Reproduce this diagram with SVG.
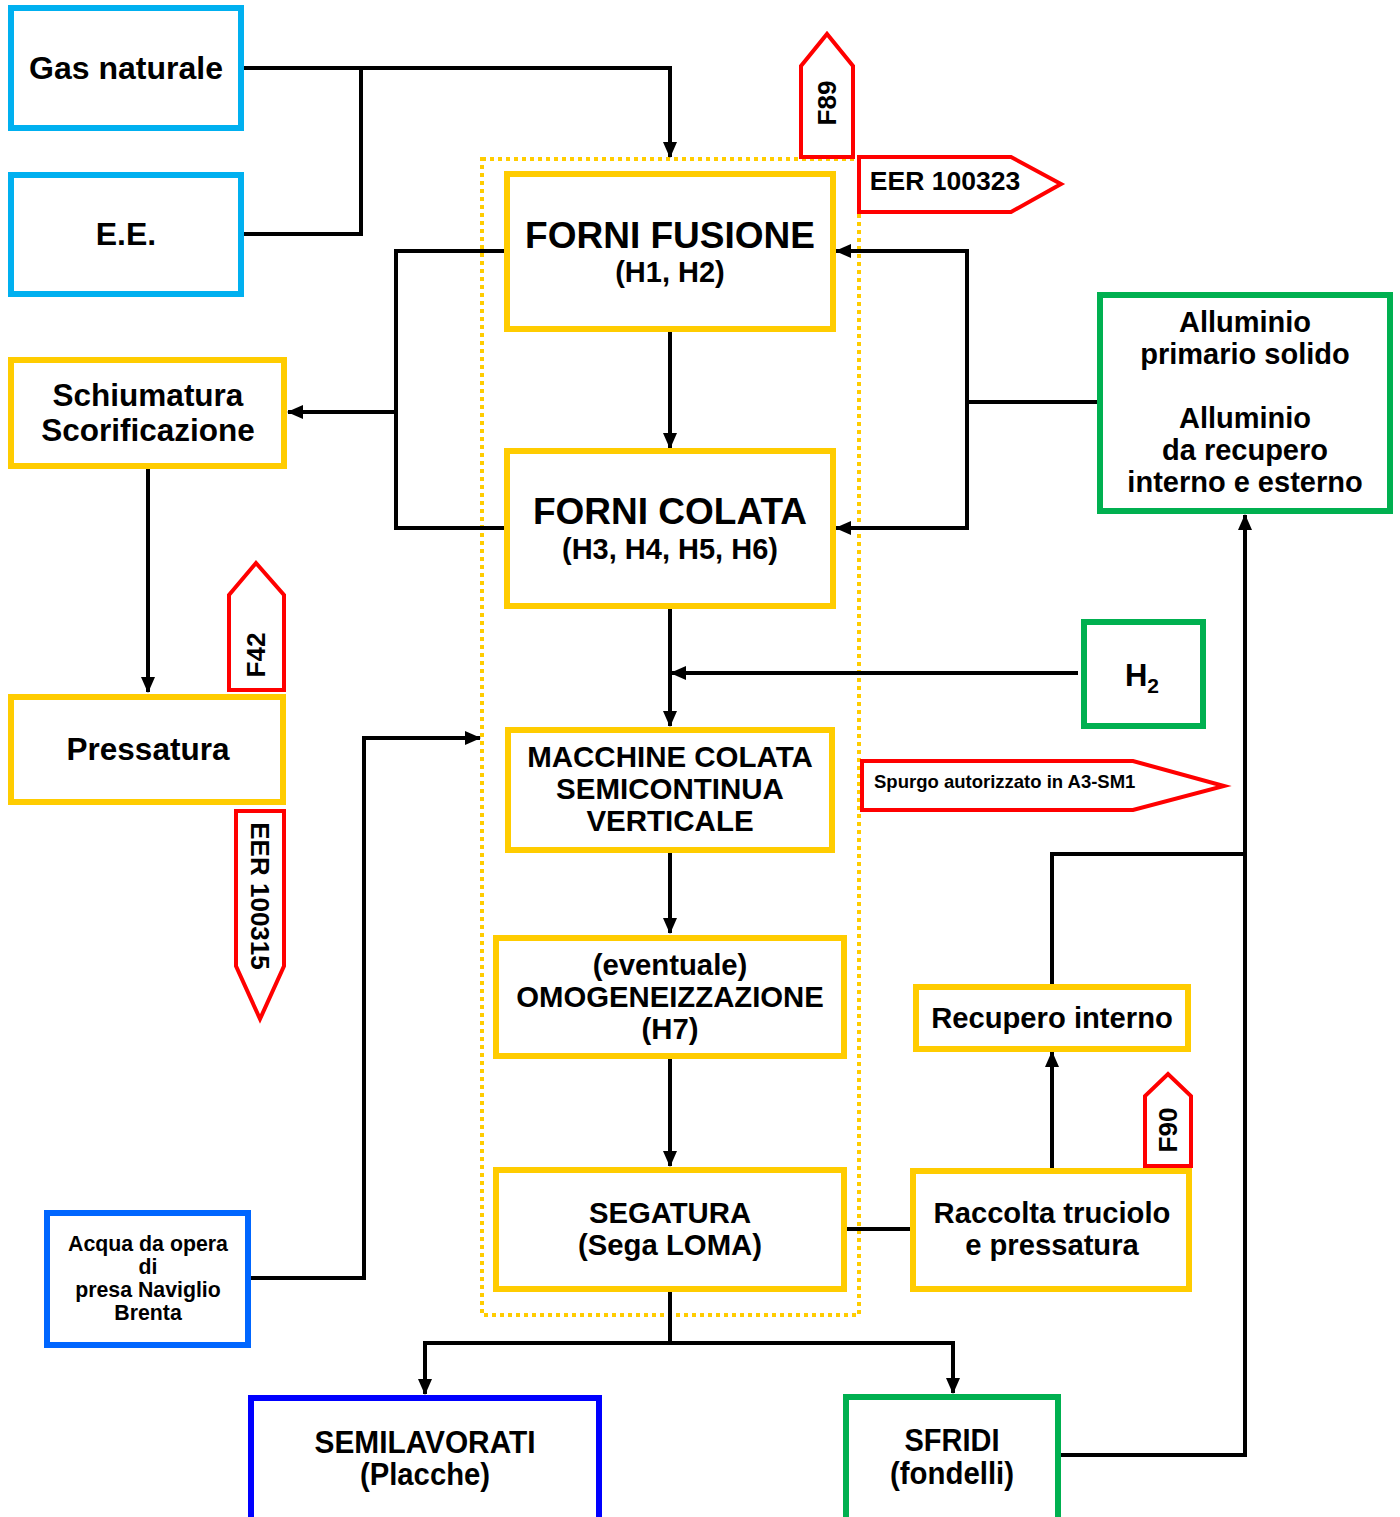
<svg xmlns="http://www.w3.org/2000/svg" width="1400" height="1517" viewBox="0 0 1400 1517">
<style>
text{font-family:"Liberation Sans",Arial,sans-serif;font-weight:bold;fill:#000;text-anchor:middle}
.box{fill:#fff;stroke-width:6}
.cy{stroke:#00B0F0}
.yl{stroke:#FFCC00}
.gr{stroke:#00B050}
.bl{stroke:#0066FF}
.db{stroke:#0000FF}
.tag{fill:#fff;stroke:#FF0000;stroke-width:4}
.c{fill:none;stroke:#000;stroke-width:4}
.a{marker-end:url(#ah)}
</style>
<defs>
<marker id="ah" markerUnits="userSpaceOnUse" markerWidth="16" markerHeight="14" refX="15" refY="7" orient="auto">
<path d="M0,0 L16,7 L0,14 z" fill="#000"/>
</marker>
</defs>
<rect width="1400" height="1517" fill="#fff"/>
<rect x="482" y="159" width="377" height="1156" fill="none" stroke="#FFCC00" stroke-width="4" stroke-dasharray="4 4"/>
<g id="connectors">
<polyline class="c a" points="243,68 670,68 670,157"/>
<polyline class="c" points="361,68 361,234 243,234"/>
<polyline class="c" points="505,251 396,251 396,528 505,528"/>
<line class="c a" x1="396" y1="412" x2="288" y2="412"/>
<line class="c a" x1="670" y1="330" x2="670" y2="448"/>
<line class="c a" x1="148" y1="467" x2="148" y2="692"/>
<polyline class="c a" points="1098,402 967,402 967,251 836,251"/>
<polyline class="c a" points="967,402 967,528 836,528"/>
<line class="c a" x1="670" y1="607" x2="670" y2="726"/>
<line class="c a" x1="1078" y1="673" x2="671" y2="673"/>
<polyline class="c a" points="249,1278 364,1278 364,738 480,738"/>
<line class="c a" x1="670" y1="851" x2="670" y2="933"/>
<line class="c a" x1="670" y1="1057" x2="670" y2="1166"/>
<line class="c" x1="846" y1="1229" x2="912" y2="1229"/>
<line class="c a" x1="1052" y1="1168" x2="1052" y2="1052"/>
<polyline class="c" points="1052,986 1052,854 1245,854"/>
<polyline class="c a" points="1060,1455 1245,1455 1245,515"/>
<line class="c" x1="670" y1="1290" x2="670" y2="1343"/>
<polyline class="c a" points="670,1343 425,1343 425,1394"/>
<polyline class="c a" points="670,1343 953,1343 953,1393"/>
</g>
<g id="gas"><rect class="box cy" x="11" y="8" width="230" height="120"/><text x="126" y="79" font-size="32">Gas naturale</text></g>
<g id="ee"><rect class="box cy" x="11" y="175" width="230" height="119"/><text x="126" y="245" font-size="32">E.E.</text></g>
<g id="forni-fusione"><rect class="box yl" x="507" y="174" width="326" height="155"/><text x="670" y="248" font-size="37">FORNI FUSIONE</text><text x="670" y="282" font-size="29">(H1, H2)</text></g>
<g id="forni-colata"><rect class="box yl" x="507" y="451" width="326" height="155"/><text x="670" y="524" font-size="37">FORNI COLATA</text><text x="670" y="559" font-size="29">(H3, H4, H5, H6)</text></g>
<g id="schiumatura"><rect class="box yl" x="11" y="360" width="273" height="106"/><text x="148" y="406" font-size="31.5">Schiumatura</text><text x="148" y="441" font-size="31.5">Scorificazione</text></g>
<g id="pressatura"><rect class="box yl" x="11" y="697" width="272" height="105"/><text x="148" y="760" font-size="31.5">Pressatura</text></g>
<g id="alluminio"><rect class="box gr" x="1100" y="295" width="290" height="216"/>
<text x="1245" y="332" font-size="29">Alluminio</text><text x="1245" y="364" font-size="29">primario solido</text>
<text x="1245" y="428" font-size="29">Alluminio</text><text x="1245" y="460" font-size="29">da recupero</text><text x="1245" y="492" font-size="29">interno e esterno</text></g>
<g id="h2"><rect class="box gr" x="1084" y="622" width="119" height="104"/><text x="1142" y="686" font-size="31">H<tspan font-size="21" dy="7">2</tspan></text></g>
<g id="macchine"><rect class="box yl" x="508" y="730" width="324" height="120"/><text x="670" y="767" font-size="29.5">MACCHINE COLATA</text><text x="670" y="799" font-size="29.5">SEMICONTINUA</text><text x="670" y="831" font-size="29.5">VERTICALE</text></g>
<g id="omogeneizzazione"><rect class="box yl" x="496" y="938" width="348" height="118"/><text x="670" y="975" font-size="29.3">(eventuale)</text><text x="670" y="1007" font-size="29.3">OMOGENEIZZAZIONE</text><text x="670" y="1039" font-size="29.3">(H7)</text></g>
<g id="segatura"><rect class="box yl" x="496" y="1170" width="348" height="119"/><text x="670" y="1223" font-size="29.3">SEGATURA</text><text x="670" y="1255" font-size="29.3">(Sega LOMA)</text></g>
<g id="raccolta"><rect class="box yl" x="913" y="1171" width="276" height="118"/><text x="1052" y="1223" font-size="29.2">Raccolta truciolo</text><text x="1052" y="1255" font-size="29.2">e pressatura</text></g>
<g id="recupero"><rect class="box yl" x="916" y="987" width="272" height="62"/><text x="1052" y="1028" font-size="29.2">Recupero interno</text></g>
<g id="acqua"><rect class="box bl" x="47" y="1213" width="201" height="132"/><text x="148" y="1251" font-size="21.3">Acqua da opera</text><text x="148" y="1274" font-size="21.3">di</text><text x="148" y="1297" font-size="21.3">presa Naviglio</text><text x="148" y="1320" font-size="21.3">Brenta</text></g>
<g id="semilavorati"><rect class="box db" x="251" y="1398" width="348" height="125"/><text x="425" y="1453" font-size="31" textLength="221" lengthAdjust="spacingAndGlyphs">SEMILAVORATI</text><text x="425" y="1485" font-size="31" textLength="130" lengthAdjust="spacingAndGlyphs">(Placche)</text></g>
<g id="sfridi"><rect class="box gr" x="846" y="1397" width="212" height="126"/><text x="952" y="1451" font-size="31" textLength="95" lengthAdjust="spacingAndGlyphs">SFRIDI</text><text x="952" y="1484" font-size="31" textLength="124" lengthAdjust="spacingAndGlyphs">(fondelli)</text></g>
<g id="f89"><polygon class="tag" points="801,157 853,157 853,66 827,34 801,66"/><text transform="translate(836,103) rotate(-90)" font-size="26">F89</text></g>
<g id="eer100323"><polygon class="tag" points="859,157 1011,157 1061,184 1011,212 859,212"/><text x="945" y="190" font-size="26.5">EER 100323</text></g>
<g id="f42"><polygon class="tag" points="229,690 284,690 284,595 256,563 229,595"/><text transform="translate(265,655) rotate(-90)" font-size="26">F42</text></g>
<g id="eer100315"><polygon class="tag" points="236,811 284,811 284,966 260,1019 236,966"/><text transform="translate(251,896) rotate(90)" font-size="26">EER 100315</text></g>
<g id="spurgo"><polygon class="tag" points="862,761 1133,761 1224,786 1133,810 862,810"/><text x="874" y="788" font-size="18.5" style="text-anchor:start">Spurgo autorizzato in A3-SM1</text></g>
<g id="f90"><polygon class="tag" points="1145,1166 1191,1166 1191,1096 1168,1074 1145,1096"/><text transform="translate(1177,1130) rotate(-90)" font-size="26">F90</text></g>
</svg>
